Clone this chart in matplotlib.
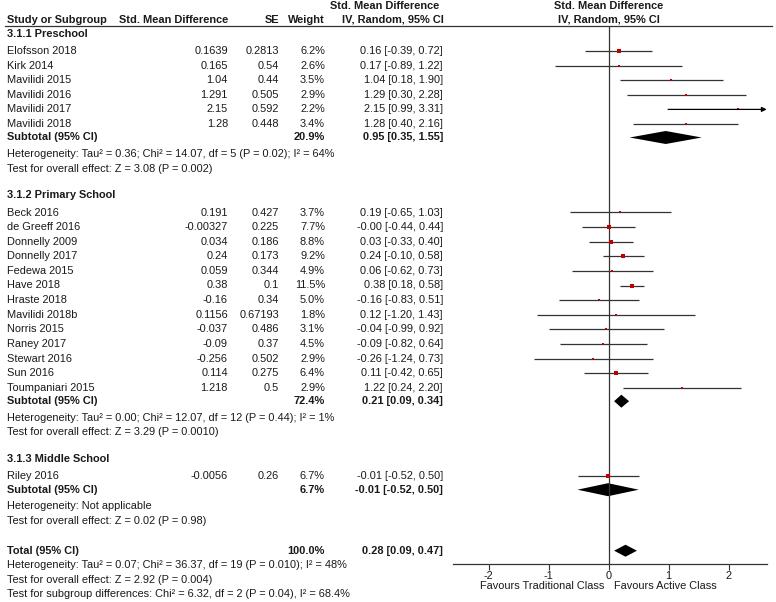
import matplotlib
matplotlib.use("Agg")
import matplotlib.pyplot as plt
from matplotlib.patches import Polygon

plt.rcParams['font.family'] = ['Liberation Sans', 'DejaVu Sans']
plt.rcParams['axes.unicode_minus'] = False

# --- data ---
pre_names = ["Elofsson 2018", "Kirk 2014", "Mavilidi 2015", "Mavilidi 2016", "Mavilidi 2017", "Mavilidi 2018"]
pre_smd = [0.1639, 0.165, 1.04, 1.291, 2.15, 1.28]
pre_se = [0.2813, 0.54, 0.44, 0.505, 0.592, 0.448]
pre_w = [6.2, 2.6, 3.5, 2.9, 2.2, 3.4]
pre_lo = [-0.39, -0.89, 0.18, 0.30, 0.99, 0.40]
pre_hi = [0.72, 1.22, 1.90, 2.28, 3.31, 2.16]
pre_sub = (20.9, 0.95, 0.35, 1.55)
pre_het = "Heterogeneity: Tau² = 0.36; Chi² = 14.07, df = 5 (P = 0.02); I² = 64%"
pre_test = "Test for overall effect: Z = 3.08 (P = 0.002)"

pri_names = ["Beck 2016", "de Greeff 2016", "Donnelly 2009", "Donnelly 2017", "Fedewa 2015", "Have 2018",
             "Hraste 2018", "Mavilidi 2018b", "Norris 2015", "Raney 2017", "Stewart 2016", "Sun 2016",
             "Toumpaniari 2015"]
pri_smd = [0.191, -0.00327, 0.034, 0.24, 0.059, 0.38, -0.16, 0.1156, -0.037, -0.09, -0.256, 0.114, 1.218]
pri_se = [0.427, 0.225, 0.186, 0.173, 0.344, 0.1, 0.34, 0.67193, 0.486, 0.37, 0.502, 0.275, 0.5]
pri_w = [3.7, 7.7, 8.8, 9.2, 4.9, 11.5, 5.0, 1.8, 3.1, 4.5, 2.9, 6.4, 2.9]
pri_lo = [-0.65, -0.44, -0.33, -0.10, -0.62, 0.18, -0.83, -1.20, -0.99, -0.82, -1.24, -0.42, 0.24]
pri_hi = [1.03, 0.44, 0.40, 0.58, 0.73, 0.58, 0.51, 1.43, 0.92, 0.64, 0.73, 0.65, 2.20]
pri_sub = (72.4, 0.21, 0.09, 0.34)
pri_het = "Heterogeneity: Tau² = 0.00; Chi² = 12.07, df = 12 (P = 0.44); I² = 1%"
pri_test = "Test for overall effect: Z = 3.29 (P = 0.0010)"

mid_names = ["Riley 2016"]
mid_smd = [-0.0056]
mid_se = [0.26]
mid_w = [6.7]
mid_lo = [-0.52]
mid_hi = [0.50]
mid_sub = (6.7, -0.01, -0.52, 0.50)
mid_het = "Heterogeneity: Not applicable"
mid_test = "Test for overall effect: Z = 0.02 (P = 0.98)"

total = (100.0, 0.28, 0.09, 0.47)
total_notes = ["Heterogeneity: Tau² = 0.07; Chi² = 36.37, df = 19 (P = 0.010); I² = 48%",
               "Test for overall effect: Z = 2.92 (P = 0.004)",
               "Test for subgroup differences: Chi² = 6.32, df = 2 (P = 0.04), I² = 68.4%"]

groups = [
    ("3.1.1 Preschool", pre_names, pre_smd, pre_se, pre_w, pre_lo, pre_hi, pre_sub, pre_het, pre_test),
    ("3.1.2 Primary School", pri_names, pri_smd, pri_se, pri_w, pri_lo, pri_hi, pri_sub, pri_het, pri_test),
    ("3.1.3 Middle School", mid_names, mid_smd, mid_se, mid_w, mid_lo, mid_hi, mid_sub, mid_het, mid_test),
]

# --- layout (pixels) ---
W, H = 776, 602
XMIN, XMAX = -2.6, 2.633
TXT = '#1a1a1a'
LINE = '#333333'
RED = '#c00000'
FS = 7.9
X_STUDY, X_SMD, X_SE, X_W, X_CI = 7, 228, 279, 325, 443
AX_TOP, AX_BOT = 26, 564

fig = plt.figure(figsize=(W / 100, H / 100), dpi=100)
ax_t = fig.add_axes([0, 0, 1, 1])
ax_t.set_xlim(0, W)
ax_t.set_ylim(H, 0)
ax_t.axis('off')

ax = fig.add_axes([452.7 / W, (H - AX_BOT) / H, (766.7 - 452.7) / W, (AX_BOT - AX_TOP) / H])
ax.set_xlim(XMIN, XMAX)
ax.set_ylim(AX_BOT, AX_TOP)
ax.patch.set_alpha(0)
for s in ['left', 'right', 'top']:
    ax.spines[s].set_visible(False)
ax.spines['bottom'].set_color(LINE)
ax.spines['bottom'].set_linewidth(0.9)
ax.set_yticks([])
ax.set_xticks([-2, -1, 0, 1, 2])
ax.tick_params(axis='x', direction='out', length=4, width=0.8, color=LINE, pad=1,
               labelsize=FS, labelcolor=TXT)
ax.axvline(0, color=LINE, lw=0.9)


def txt(x, y, s, ha='left', bold=False, axes=None):
    (axes or ax_t).text(x, y, s, ha=ha, va='center', fontsize=FS, color=TXT,
                        fontweight='bold' if bold else 'normal')


def ci_str(est, lo, hi):
    return f"{est:.2f} [{lo:.2f}, {hi:.2f}]"


def diamond(y, est, lo, hi, h=13):
    ax.add_patch(Polygon([(lo, y), (est, y - h / 2), (hi, y), (est, y + h / 2)],
                         closed=True, color='black', lw=0))


# headers
txt(384.5, 6, "Std. Mean Difference", ha='center', bold=True)
txt(0, 6, "Std. Mean Difference", ha='center', bold=True, axes=ax)
txt(X_STUDY, 20, "Study or Subgroup", bold=True)
txt(X_SMD, 20, "Std. Mean Difference", ha='right', bold=True)
txt(X_SE, 20, "SE", ha='right', bold=True)
txt(X_W, 20, "Weight", ha='right', bold=True)
txt(393, 20, "IV, Random, 95% CI", ha='center', bold=True)
txt(0, 20, "IV, Random, 95% CI", ha='center', bold=True, axes=ax)
ax_t.plot([5, 772], [25.5, 25.5], color=LINE, lw=0.9)

STEP = 14.6
y = 34
for title, names, smd, se, w, lo, hi, sub, het, test in groups:
    txt(X_STUDY, y, title, bold=True)
    y += 17
    for i in range(len(names)):
        if i:
            y += STEP
        txt(X_STUDY, y, names[i])
        txt(X_SMD, y, str(smd[i]), ha='right')
        txt(X_SE, y, str(se[i]), ha='right')
        txt(X_W, y, f"{w[i]:.1f}%", ha='right')
        txt(X_CI, y, ci_str(smd[i], lo[i], hi[i]), ha='right')
        if hi[i] > XMAX:
            ax.annotate('', xy=(XMAX, y), xytext=(lo[i], y), annotation_clip=False,
                        arrowprops=dict(arrowstyle='-|>', color='black', lw=0.9,
                                        mutation_scale=7, shrinkA=0, shrinkB=0))
        else:
            ax.plot([lo[i], hi[i]], [y, y], color=LINE, lw=0.9, solid_capstyle='butt')
        ax.plot(smd[i], y, marker='s', ms=(1.6 + 0.23 * w[i]) * 0.72, color=RED, mew=0)
    y += 13.5
    sw, sest, slo, shi = sub
    txt(X_STUDY, y, "Subtotal (95% CI)", bold=True)
    txt(X_W, y, f"{sw:.1f}%", ha='right', bold=True)
    txt(X_CI, y, ci_str(sest, slo, shi), ha='right', bold=True)
    diamond(y, sest, slo, shi)
    y += 16.5
    txt(X_STUDY, y, het)
    y += 14.5
    txt(X_STUDY, y, test)
    last = y
    y += 27

y = last + 30
tw, test_, tlo, thi = total
txt(X_STUDY, y, "Total (95% CI)", bold=True)
txt(X_W, y, f"{tw:.1f}%", ha='right', bold=True)
txt(X_CI, y, ci_str(test_, tlo, thi), ha='right', bold=True)
diamond(y, test_, tlo, thi, h=12)
for note in total_notes:
    y += 14.5
    txt(X_STUDY, y, note)

ax.text(-0.08, 586, "Favours Traditional Class", ha='right', va='center', fontsize=FS, color=TXT)
ax.text(0.09, 586, "Favours Active Class", ha='left', va='center', fontsize=FS, color=TXT)

fig.savefig("out.png", dpi=100)
